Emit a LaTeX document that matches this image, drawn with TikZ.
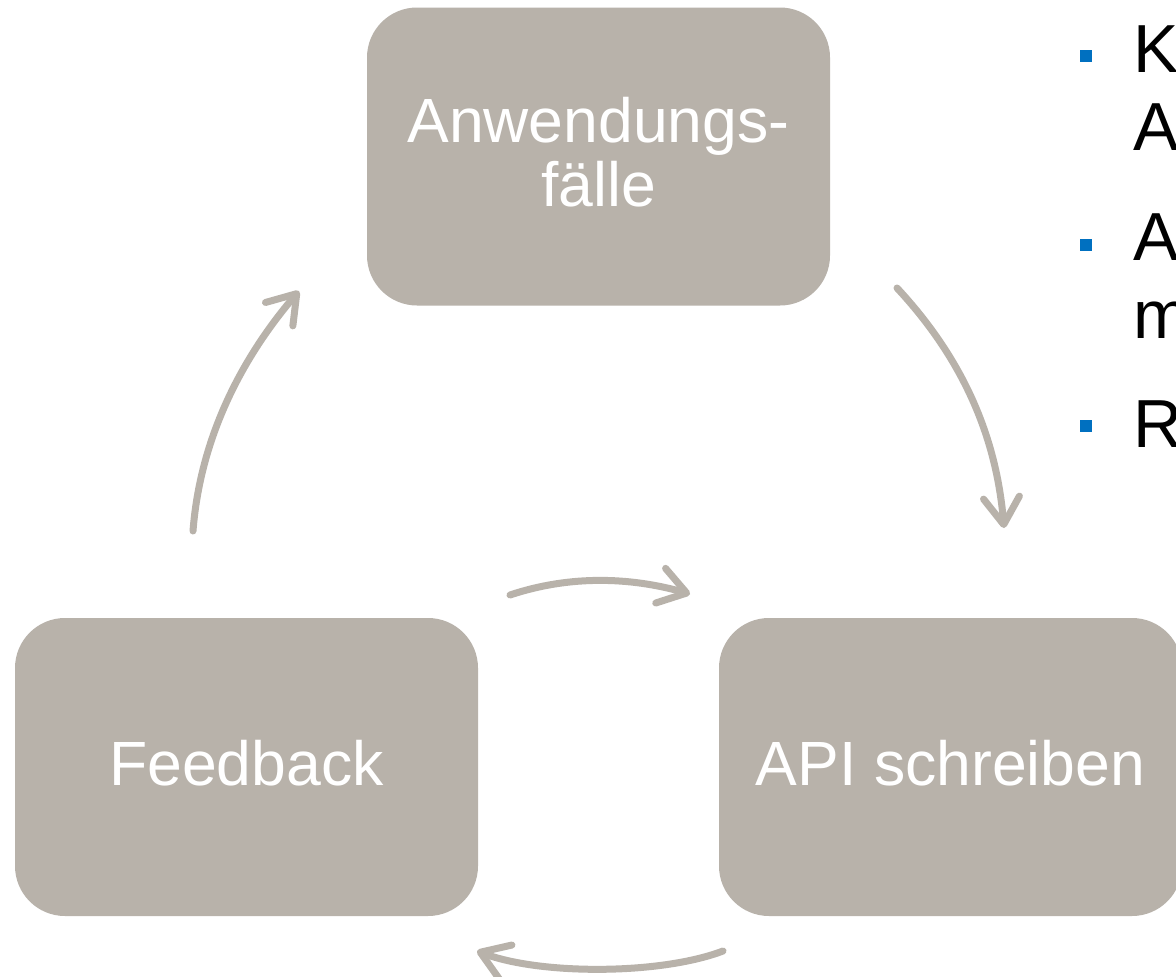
\documentclass[tikz,border=0pt]{standalone}
\usepackage{fontspec}
\setmainfont{Liberation Sans}
\usetikzlibrary{arrows.meta}

\definecolor{stone}{RGB}{184,178,170}
\definecolor{arrowgrey}{RGB}{184,178,170}
\definecolor{bulletblue}{RGB}{0,112,192}

\tikzset{
  stepbox/.style={fill=stone, draw=none, rounded corners=50pt,
    minimum width=463pt, minimum height=298pt, inner sep=0pt,
    text=white, align=center, text depth=9pt,
    font=\fontsize{62.5}{64}\selectfont},
  flow/.style={draw=arrowgrey, line width=7pt, line cap=round,
    -{Straight Barb[length=27pt,width=36pt,round]}},
  bullet/.style={fill=bulletblue, draw=none, minimum size=12pt, inner sep=0pt},
  sidetext/.style={anchor=base west, inner sep=0pt,
    font=\fontsize{68}{78}\selectfont}
}

\begin{document}
\begin{tikzpicture}[x=1pt,y=-1pt]
  % page frame
  \path[use as bounding box, fill=white] (0,0) rectangle (1176,977);
  \clip (0,0) rectangle (1176,977);

  % the three process steps
  \node[stepbox] (cases) at (598.5,156.5) {Anwendungs-\\fälle};
  \node[stepbox] (feedback) at (246.5,767) {Feedback};
  \node[stepbox] (api) at (950.5,767) {API schreiben};

  % end points of the cycle arrows
  \coordinate (c1s) at (897,288);
  \coordinate (c1e) at (1004,528);
  \coordinate (c2s) at (723,951);
  \coordinate (c2e) at (477,951);
  \coordinate (c3s) at (193,531);
  \coordinate (c3e) at (299,291);
  \coordinate (c4s) at (510,595);
  \coordinate (c4e) at (690,594);

  % cycle arrows
  \draw[flow] (c1s) .. controls (950,345) and (995,420) .. (c1e);
  \draw[flow] (c2s) .. controls (660,975) and (540,975) .. (c2e);
  \draw[flow] (c3s) .. controls (200,440) and (240,360) .. (c3e);
  \draw[flow] (c4s) .. controls (570,575) and (630,577) .. (c4e);

  % bullet list at the right
  \node[bullet] (b1) at (1086,56) {};
  \node[bullet] (b2) at (1086,245) {};
  \node[bullet] (b3) at (1086,426) {};
  \node[sidetext] (t1a) at (1133,72) {K};
  \node[sidetext] (t1b) at (1133,150) {A};
  \node[sidetext] (t2a) at (1133,260) {A};
  \node[sidetext] (t2b) at (1133,338) {m};
  \node[sidetext] (t3a) at (1133,447) {R};
\end{tikzpicture}
\end{document}
